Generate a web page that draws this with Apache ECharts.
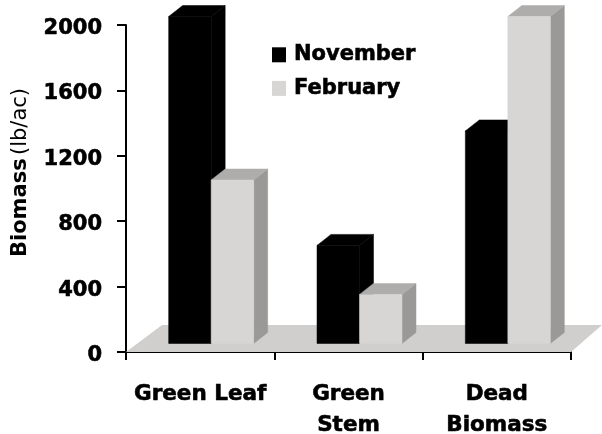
<!DOCTYPE html>
<html><head><meta charset="utf-8">
<style>html,body{margin:0;padding:0;background:#fff}#c{width:602px;height:434px}</style>
<script src="https://cdn.jsdelivr.net/npm/echarts@6/dist/echarts.min.js"></script>
</head><body><div id="c"></div>
<script>
const categories = ['Green Leaf', 'Green\nStem', 'Dead\nBiomass'];
const november = [2000, 600, 1300];
const february = [1000, 300, 2000];
const yTicks = [0, 400, 800, 1200, 1600, 2000];

const chart = echarts.init(document.getElementById('c'), null, {renderer: 'canvas'});
const OFF_X = 11, OFF_Y = 8.5, BAR_W = 42.5, DX = 14, DY = 11;
const FONT = '"DejaVu Sans", sans-serif';

function bar3d(seriesIndex, front, top, side) {
  return function (params, api) {
    const idx = api.value(0), v = api.value(1);
    const c = api.coord([idx, v]), b = api.coord([idx, 0]);
    const x0 = c[0] + OFF_X + (seriesIndex === 0 ? -BAR_W : 0);
    const x1 = x0 + BAR_W;
    const yt = c[1] - OFF_Y, yb = b[1] - OFF_Y;
    return {type: 'group', children: [
      {type: 'polygon', shape: {points: [[x1, yt], [x1 + DX, yt - DY], [x1 + DX, yb - DY], [x1, yb]]}, style: {fill: side, stroke: side, lineWidth: 0.5}},
      {type: 'polygon', shape: {points: [[x0, yt], [x0 + DX, yt - DY], [x1 + DX, yt - DY], [x1, yt]]}, style: {fill: top, stroke: top, lineWidth: 0.5}},
      {type: 'rect', shape: {x: x0, y: yt, width: BAR_W, height: yb - yt}, style: {fill: front, stroke: front, lineWidth: 0.5}}
    ]};
  };
}
function floor(params, api) {
  const cs = params.coordSys;
  const l = cs.x, r = cs.x + cs.width, b = cs.y + cs.height;
  return {type: 'polygon', shape: {points: [[l, b], [l + 36, b - 27], [r + 31, b - 27], [r, b]]}, style: {fill: '#d0cfcd'}};
}
const rows = a => a.map((v, i) => [i, v]);

chart.setOption({
  animation: false,
  backgroundColor: '#fff',
  grid: {left: 126, top: 25, width: 445, height: 327, containLabel: false, outerBoundsMode: 'none'},
  legend: {
    left: 272, top: 44, padding: 0, orient: 'vertical', itemWidth: 14, itemHeight: 15, itemGap: 12,
    icon: 'rect', data: ['November', 'February'],
    textStyle: {fontFamily: FONT, fontWeight: 'bold', fontSize: 21, color: '#000', padding: [0, 0, 0, 3],
      textBorderColor: '#000', textBorderWidth: 0.6}
  },
  xAxis: {
    type: 'category', data: categories,
    axisLine: {lineStyle: {color: '#000', width: 2}},
    axisTick: {show: true, alignWithLabel: false, length: 8, lineStyle: {color: '#000', width: 2}},
    axisLabel: {interval: 0, fontFamily: FONT, fontWeight: 'bold', fontSize: 21.5, color: '#000', lineHeight: 31, margin: 27,
      textBorderColor: '#000', textBorderWidth: 0.6}
  },
  yAxis: {
    type: 'value', min: 0, max: 2000, interval: 400,
    name: '{a|Biomass} {b|(lb/ac)}', nameLocation: 'middle', nameGap: 95, nameRotate: 90,
    nameTextStyle: {padding: [0, 0, 0, 32], rich: {
      a: {fontFamily: FONT, fontWeight: 'bold', fontSize: 21, color: '#000'},
      b: {fontFamily: FONT, fontWeight: 'normal', fontSize: 21, color: '#000'}
    }},
    splitLine: {show: false},
    axisLine: {show: true, lineStyle: {color: '#000', width: 2}},
    axisTick: {show: true, length: 9, lineStyle: {color: '#000', width: 2}},
    axisLabel: {fontFamily: FONT, fontWeight: 'bold', fontSize: 21, color: '#000', margin: 24,
      verticalAlign: 'top', lineHeight: 7,
      textBorderColor: '#000', textBorderWidth: 0.6,
      formatter: v => yTicks.includes(v) ? String(v) : ''}
  },
  series: [
    {type: 'custom', name: 'floor', data: [[0, 0]], renderItem: floor, z: 1, silent: true, clip: false, encode: {x: 0, y: 1}},
    {type: 'custom', name: 'November', data: rows(november), renderItem: bar3d(0, '#000', '#000', '#000'), z: 2, clip: false,
     itemStyle: {color: '#000'}, encode: {x: 0, y: 1}},
    {type: 'custom', name: 'February', data: rows(february), renderItem: bar3d(1, '#d7d6d4', '#aeadab', '#9a9997'), z: 3, clip: false,
     itemStyle: {color: '#d7d6d4'}, encode: {x: 0, y: 1}}
  ]
});
</script></body></html>
